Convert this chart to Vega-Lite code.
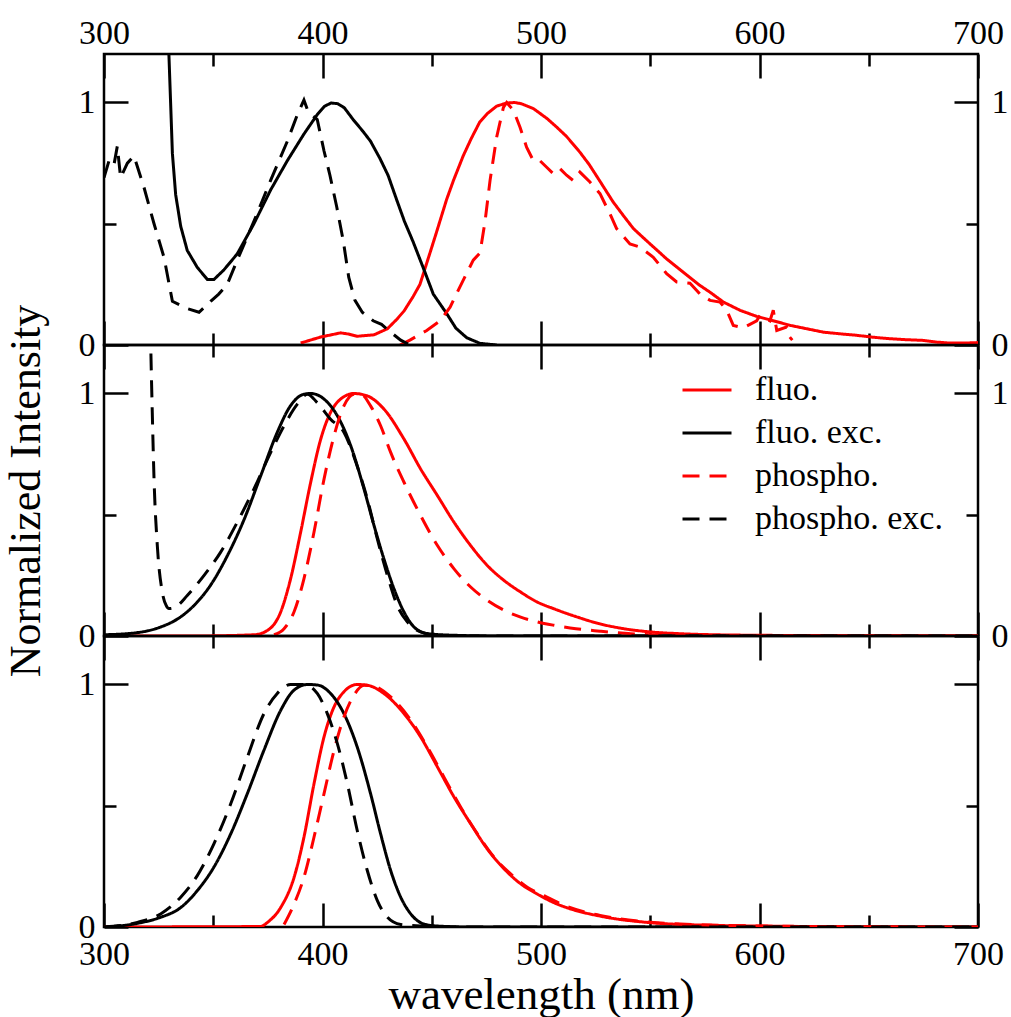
{
"$schema":"https://vega.github.io/schema/vega-lite/v6.json",
"padding":{"left":2,"top":14,"right":0,"bottom":5},
"bounds":"flush",
"spacing":0,
"config":{"font":"Liberation Serif","view":{"stroke":"#000","strokeWidth":2.5},
"axis":{"grid":false,"domain":false,"labelFont":"Liberation Serif","labelFontSize":34,"labelColor":"#000","tickColor":"#000","tickWidth":2.5,"titleFont":"Liberation Serif","titleFontSize":44,"titleFontWeight":"normal","titleColor":"#000","labelFlush":false,"labelOverlap":false,"format":"d"}},
"resolve":{"scale":{"color":"independent","strokeDash":"independent"},"legend":{"color":"independent","strokeDash":"independent"}},
"datasets":{
"top":[
{"s":"fluo.","x":390,"y":0.008},{"s":"fluo.","x":399.2,"y":0.033},{"s":"fluo.","x":408.3,"y":0.05},{"s":"fluo.","x":412,"y":0.045},{"s":"fluo.","x":415.9,"y":0.036},{"s":"fluo.","x":423.6,"y":0.042},{"s":"fluo.","x":429.7,"y":0.067},{"s":"fluo.","x":433.9,"y":0.105},{"s":"fluo.","x":437.3,"y":0.14},{"s":"fluo.","x":441.5,"y":0.2},{"s":"fluo.","x":444.6,"y":0.25},{"s":"fluo.","x":449.2,"y":0.38},{"s":"fluo.","x":452,"y":0.46},{"s":"fluo.","x":456.8,"y":0.6},{"s":"fluo.","x":460,"y":0.68},{"s":"fluo.","x":464.4,"y":0.78},{"s":"fluo.","x":468,"y":0.85},{"s":"fluo.","x":472,"y":0.92},{"s":"fluo.","x":475.5,"y":0.955},{"s":"fluo.","x":479.7,"y":0.985},{"s":"fluo.","x":484.3,"y":0.998},{"s":"fluo.","x":488,"y":1.0},{"s":"fluo.","x":491,"y":0.995},{"s":"fluo.","x":496.5,"y":0.975},{"s":"fluo.","x":502.6,"y":0.935},{"s":"fluo.","x":507,"y":0.9},{"s":"fluo.","x":511.7,"y":0.86},{"s":"fluo.","x":517.8,"y":0.795},{"s":"fluo.","x":522,"y":0.745},{"s":"fluo.","x":527,"y":0.675},{"s":"fluo.","x":533,"y":0.59},{"s":"fluo.","x":538,"y":0.53},{"s":"fluo.","x":542.3,"y":0.48},{"s":"fluo.","x":548.3,"y":0.43},{"s":"fluo.","x":552,"y":0.4},{"s":"fluo.","x":557.5,"y":0.355},{"s":"fluo.","x":565.1,"y":0.3},{"s":"fluo.","x":572.8,"y":0.245},{"s":"fluo.","x":577,"y":0.22},{"s":"fluo.","x":583.5,"y":0.177},{"s":"fluo.","x":591.1,"y":0.143},{"s":"fluo.","x":598.7,"y":0.118},{"s":"fluo.","x":606.3,"y":0.1},{"s":"fluo.","x":614,"y":0.081},{"s":"fluo.","x":621.6,"y":0.067},{"s":"fluo.","x":629.2,"y":0.053},{"s":"fluo.","x":637,"y":0.046},{"s":"fluo.","x":644.5,"y":0.04},{"s":"fluo.","x":652,"y":0.032},{"s":"fluo.","x":659.5,"y":0.026},{"s":"fluo.","x":667,"y":0.022},{"s":"fluo.","x":674.8,"y":0.019},{"s":"fluo.","x":681,"y":0.012},{"s":"fluo.","x":687,"y":0.008},{"s":"fluo.","x":694,"y":0.008},{"s":"fluo.","x":700,"y":0.01},
{"s":"fluo. exc.","x":328,"y":1.8},{"s":"fluo. exc.","x":329.7,"y":1.2},{"s":"fluo. exc.","x":331.3,"y":0.79},{"s":"fluo. exc.","x":332.8,"y":0.62},{"s":"fluo. exc.","x":335.1,"y":0.49},{"s":"fluo. exc.","x":338.1,"y":0.39},{"s":"fluo. exc.","x":342.7,"y":0.32},{"s":"fluo. exc.","x":347.3,"y":0.27},{"s":"fluo. exc.","x":350.3,"y":0.27},{"s":"fluo. exc.","x":354.9,"y":0.31},{"s":"fluo. exc.","x":361,"y":0.376},{"s":"fluo. exc.","x":368.6,"y":0.5},{"s":"fluo. exc.","x":376.3,"y":0.64},{"s":"fluo. exc.","x":383.9,"y":0.76},{"s":"fluo. exc.","x":391.5,"y":0.87},{"s":"fluo. exc.","x":397.6,"y":0.95},{"s":"fluo. exc.","x":401,"y":0.985},{"s":"fluo. exc.","x":404,"y":0.998},{"s":"fluo. exc.","x":407,"y":0.995},{"s":"fluo. exc.","x":410,"y":0.978},{"s":"fluo. exc.","x":414,"y":0.93},{"s":"fluo. exc.","x":418.7,"y":0.879},{"s":"fluo. exc.","x":422,"y":0.84},{"s":"fluo. exc.","x":426.3,"y":0.769},{"s":"fluo. exc.","x":430,"y":0.7},{"s":"fluo. exc.","x":433.9,"y":0.6},{"s":"fluo. exc.","x":437.5,"y":0.51},{"s":"fluo. exc.","x":441.5,"y":0.425},{"s":"fluo. exc.","x":446.9,"y":0.3},{"s":"fluo. exc.","x":450.7,"y":0.21},{"s":"fluo. exc.","x":456.8,"y":0.13},{"s":"fluo. exc.","x":461,"y":0.07},{"s":"fluo. exc.","x":466,"y":0.03},{"s":"fluo. exc.","x":472,"y":0.007},{"s":"fluo. exc.","x":479.7,"y":0.0},
{"s":"phospho.","x":435.5,"y":0.0},{"s":"phospho.","x":440,"y":0.02},{"s":"phospho.","x":447.7,"y":0.06},{"s":"phospho.","x":453.8,"y":0.1},{"s":"phospho.","x":458.4,"y":0.156},{"s":"phospho.","x":462.9,"y":0.24},{"s":"phospho.","x":469,"y":0.35},{"s":"phospho.","x":472.1,"y":0.38},{"s":"phospho.","x":474.4,"y":0.51},{"s":"phospho.","x":476.7,"y":0.68},{"s":"phospho.","x":479.7,"y":0.857},{"s":"phospho.","x":482.8,"y":0.98},{"s":"phospho.","x":484.3,"y":1.0},{"s":"phospho.","x":487.4,"y":0.967},{"s":"phospho.","x":490.4,"y":0.898},{"s":"phospho.","x":493.4,"y":0.816},{"s":"phospho.","x":496.5,"y":0.76},{"s":"phospho.","x":499.5,"y":0.76},{"s":"phospho.","x":502.6,"y":0.733},{"s":"phospho.","x":505.7,"y":0.706},{"s":"phospho.","x":508.7,"y":0.727},{"s":"phospho.","x":511.7,"y":0.7},{"s":"phospho.","x":514.8,"y":0.678},{"s":"phospho.","x":517.8,"y":0.713},{"s":"phospho.","x":522.4,"y":0.672},{"s":"phospho.","x":527,"y":0.624},{"s":"phospho.","x":531.6,"y":0.54},{"s":"phospho.","x":534.6,"y":0.48},{"s":"phospho.","x":540.7,"y":0.417},{"s":"phospho.","x":545.3,"y":0.404},{"s":"phospho.","x":551.4,"y":0.362},{"s":"phospho.","x":557.5,"y":0.294},{"s":"phospho.","x":562.1,"y":0.26},{"s":"phospho.","x":568.2,"y":0.255},{"s":"phospho.","x":572.8,"y":0.21},{"s":"phospho.","x":577.4,"y":0.184},{"s":"phospho.","x":581.9,"y":0.177},{"s":"phospho.","x":585,"y":0.143},{"s":"phospho.","x":588,"y":0.081},{"s":"phospho.","x":592.6,"y":0.071},{"s":"phospho.","x":598.7,"y":0.1},{"s":"phospho.","x":600.2,"y":0.122},{"s":"phospho.","x":604.8,"y":0.1},{"s":"phospho.","x":606.3,"y":0.143},{"s":"phospho.","x":607.9,"y":0.06},{"s":"phospho.","x":612.4,"y":0.074},{"s":"phospho.","x":613.2,"y":0.04},{"s":"phospho.","x":615,"y":0.02},
{"s":"phospho. exc.","x":300,"y":0.69},{"s":"phospho. exc.","x":302.3,"y":0.76},{"s":"phospho. exc.","x":304.5,"y":0.74},{"s":"phospho. exc.","x":306.1,"y":0.82},{"s":"phospho. exc.","x":307.6,"y":0.69},{"s":"phospho. exc.","x":310.7,"y":0.75},{"s":"phospho. exc.","x":313.7,"y":0.78},{"s":"phospho. exc.","x":318.3,"y":0.65},{"s":"phospho. exc.","x":322.9,"y":0.5},{"s":"phospho. exc.","x":327.5,"y":0.36},{"s":"phospho. exc.","x":331.3,"y":0.18},{"s":"phospho. exc.","x":338.1,"y":0.15},{"s":"phospho. exc.","x":343.5,"y":0.135},{"s":"phospho. exc.","x":348.8,"y":0.18},{"s":"phospho. exc.","x":352.5,"y":0.21},{"s":"phospho. exc.","x":356.4,"y":0.25},{"s":"phospho. exc.","x":361,"y":0.35},{"s":"phospho. exc.","x":368.6,"y":0.51},{"s":"phospho. exc.","x":376.3,"y":0.68},{"s":"phospho. exc.","x":383.9,"y":0.84},{"s":"phospho. exc.","x":388.5,"y":0.95},{"s":"phospho. exc.","x":391.5,"y":1.01},{"s":"phospho. exc.","x":393.5,"y":0.96},{"s":"phospho. exc.","x":397.6,"y":0.93},{"s":"phospho. exc.","x":400.7,"y":0.8},{"s":"phospho. exc.","x":403.4,"y":0.7},{"s":"phospho. exc.","x":406.5,"y":0.57},{"s":"phospho. exc.","x":409.5,"y":0.43},{"s":"phospho. exc.","x":412,"y":0.28},{"s":"phospho. exc.","x":414.8,"y":0.185},{"s":"phospho. exc.","x":418.2,"y":0.135},{"s":"phospho. exc.","x":423.2,"y":0.1},{"s":"phospho. exc.","x":427,"y":0.085},{"s":"phospho. exc.","x":430.9,"y":0.055},{"s":"phospho. exc.","x":435.8,"y":0.02},{"s":"phospho. exc.","x":440,"y":0.0}
],
"mid":[
{"s":"fluo.","x":300,"y":0},{"s":"fluo.","x":340,"y":0},{"s":"fluo.","x":368.6,"y":0.005},{"s":"fluo.","x":374.8,"y":0.023},{"s":"fluo.","x":380.9,"y":0.1},{"s":"fluo.","x":385.4,"y":0.236},{"s":"fluo.","x":390,"y":0.428},{"s":"fluo.","x":394.6,"y":0.634},{"s":"fluo.","x":399.2,"y":0.812},{"s":"fluo.","x":403.7,"y":0.922},{"s":"fluo.","x":408.3,"y":0.977},{"s":"fluo.","x":414.4,"y":1.0},{"s":"fluo.","x":420.5,"y":0.99},{"s":"fluo.","x":428.1,"y":0.936},{"s":"fluo.","x":437.3,"y":0.812},{"s":"fluo.","x":444.9,"y":0.689},{"s":"fluo.","x":452.6,"y":0.579},{"s":"fluo.","x":460.2,"y":0.469},{"s":"fluo.","x":467.8,"y":0.373},{"s":"fluo.","x":475.4,"y":0.291},{"s":"fluo.","x":483.1,"y":0.229},{"s":"fluo.","x":490.7,"y":0.181},{"s":"fluo.","x":498.3,"y":0.14},{"s":"fluo.","x":506,"y":0.112},{"s":"fluo.","x":516,"y":0.08},{"s":"fluo.","x":527,"y":0.05},{"s":"fluo.","x":538,"y":0.03},{"s":"fluo.","x":549.9,"y":0.017},{"s":"fluo.","x":565,"y":0.009},{"s":"fluo.","x":580,"y":0.005},{"s":"fluo.","x":600,"y":0.003},{"s":"fluo.","x":650,"y":0.001},{"s":"fluo.","x":700,"y":0},
{"s":"fluo. exc.","x":300,"y":0.005},{"s":"fluo. exc.","x":315.3,"y":0.014},{"s":"fluo. exc.","x":325.9,"y":0.037},{"s":"fluo. exc.","x":333.6,"y":0.07},{"s":"fluo. exc.","x":341.2,"y":0.126},{"s":"fluo. exc.","x":348.8,"y":0.21},{"s":"fluo. exc.","x":356.4,"y":0.33},{"s":"fluo. exc.","x":364.1,"y":0.48},{"s":"fluo. exc.","x":371.7,"y":0.66},{"s":"fluo. exc.","x":379.3,"y":0.84},{"s":"fluo. exc.","x":385.4,"y":0.95},{"s":"fluo. exc.","x":391.5,"y":0.997},{"s":"fluo. exc.","x":394.6,"y":1.0},{"s":"fluo. exc.","x":400.7,"y":0.977},{"s":"fluo. exc.","x":406.8,"y":0.908},{"s":"fluo. exc.","x":412.9,"y":0.785},{"s":"fluo. exc.","x":419,"y":0.606},{"s":"fluo. exc.","x":423.6,"y":0.455},{"s":"fluo. exc.","x":428.1,"y":0.318},{"s":"fluo. exc.","x":432.7,"y":0.195},{"s":"fluo. exc.","x":437.3,"y":0.099},{"s":"fluo. exc.","x":441.9,"y":0.037},{"s":"fluo. exc.","x":448,"y":0.01},{"s":"fluo. exc.","x":460.2,"y":0.003},{"s":"fluo. exc.","x":480,"y":0},{"s":"fluo. exc.","x":700,"y":0},
{"s":"phospho.","x":377.8,"y":0.005},{"s":"phospho.","x":382.4,"y":0.03},{"s":"phospho.","x":387,"y":0.1},{"s":"phospho.","x":391.5,"y":0.236},{"s":"phospho.","x":396.1,"y":0.428},{"s":"phospho.","x":400.7,"y":0.647},{"s":"phospho.","x":405.3,"y":0.826},{"s":"phospho.","x":409.8,"y":0.949},{"s":"phospho.","x":414.4,"y":0.997},{"s":"phospho.","x":417.5,"y":0.997},{"s":"phospho.","x":422,"y":0.949},{"s":"phospho.","x":426.6,"y":0.867},{"s":"phospho.","x":431.2,"y":0.757},{"s":"phospho.","x":437.3,"y":0.634},{"s":"phospho.","x":444.9,"y":0.497},{"s":"phospho.","x":452.6,"y":0.373},{"s":"phospho.","x":460.2,"y":0.277},{"s":"phospho.","x":467.8,"y":0.202},{"s":"phospho.","x":475.4,"y":0.147},{"s":"phospho.","x":483.1,"y":0.106},{"s":"phospho.","x":490.7,"y":0.078},{"s":"phospho.","x":498.3,"y":0.058},{"s":"phospho.","x":506,"y":0.044},{"s":"phospho.","x":516,"y":0.03},{"s":"phospho.","x":527,"y":0.02},{"s":"phospho.","x":540,"y":0.01},{"s":"phospho.","x":550,"y":0.005},{"s":"phospho.","x":575,"y":0.002},{"s":"phospho.","x":600,"y":0},{"s":"phospho.","x":700,"y":0},
{"s":"phospho. exc.","x":320.8,"y":1.5},{"s":"phospho. exc.","x":321.4,"y":1.196},{"s":"phospho. exc.","x":322.1,"y":0.92},{"s":"phospho. exc.","x":322.9,"y":0.647},{"s":"phospho. exc.","x":324.4,"y":0.373},{"s":"phospho. exc.","x":326.7,"y":0.18},{"s":"phospho. exc.","x":328.5,"y":0.125},{"s":"phospho. exc.","x":329.7,"y":0.113},{"s":"phospho. exc.","x":332.8,"y":0.12},{"s":"phospho. exc.","x":338.1,"y":0.167},{"s":"phospho. exc.","x":345.8,"y":0.25},{"s":"phospho. exc.","x":353.4,"y":0.346},{"s":"phospho. exc.","x":361,"y":0.469},{"s":"phospho. exc.","x":368.6,"y":0.606},{"s":"phospho. exc.","x":376.3,"y":0.757},{"s":"phospho. exc.","x":382.4,"y":0.867},{"s":"phospho. exc.","x":388.5,"y":0.956},{"s":"phospho. exc.","x":393.1,"y":0.997},{"s":"phospho. exc.","x":397.6,"y":0.962},{"s":"phospho. exc.","x":403.7,"y":0.894},{"s":"phospho. exc.","x":409.8,"y":0.84},{"s":"phospho. exc.","x":415.9,"y":0.7},{"s":"phospho. exc.","x":420.5,"y":0.565},{"s":"phospho. exc.","x":425.1,"y":0.4},{"s":"phospho. exc.","x":429.7,"y":0.25},{"s":"phospho. exc.","x":434.2,"y":0.126},{"s":"phospho. exc.","x":438.8,"y":0.058},{"s":"phospho. exc.","x":444.9,"y":0.017},{"s":"phospho. exc.","x":452.6,"y":0.003},{"s":"phospho. exc.","x":470,"y":0},{"s":"phospho. exc.","x":700,"y":0}
],
"bot":[
{"s":"fluo.","x":300,"y":0},{"s":"fluo.","x":371.7,"y":0.002},{"s":"fluo.","x":374.8,"y":0.019},{"s":"fluo.","x":380.9,"y":0.081},{"s":"fluo.","x":387,"y":0.205},{"s":"fluo.","x":391.5,"y":0.37},{"s":"fluo.","x":396.1,"y":0.59},{"s":"fluo.","x":400.7,"y":0.784},{"s":"fluo.","x":405.3,"y":0.908},{"s":"fluo.","x":409.8,"y":0.97},{"s":"fluo.","x":415.9,"y":1.0},{"s":"fluo.","x":420.5,"y":0.997},{"s":"fluo.","x":428.1,"y":0.963},{"s":"fluo.","x":437.3,"y":0.88},{"s":"fluo.","x":444.9,"y":0.784},{"s":"fluo.","x":452.6,"y":0.66},{"s":"fluo.","x":460.2,"y":0.536},{"s":"fluo.","x":467.8,"y":0.426},{"s":"fluo.","x":475.4,"y":0.322},{"s":"fluo.","x":483.1,"y":0.24},{"s":"fluo.","x":490.7,"y":0.178},{"s":"fluo.","x":498.3,"y":0.136},{"s":"fluo.","x":506,"y":0.1},{"s":"fluo.","x":511.7,"y":0.08},{"s":"fluo.","x":527,"y":0.045},{"s":"fluo.","x":549.9,"y":0.018},{"s":"fluo.","x":572.8,"y":0.008},{"s":"fluo.","x":600.2,"y":0.004},{"s":"fluo.","x":650,"y":0.001},{"s":"fluo.","x":700,"y":0},
{"s":"fluo. exc.","x":300,"y":0},{"s":"fluo. exc.","x":315.3,"y":0.015},{"s":"fluo. exc.","x":325.9,"y":0.04},{"s":"fluo. exc.","x":335.1,"y":0.08},{"s":"fluo. exc.","x":342.7,"y":0.15},{"s":"fluo. exc.","x":350.3,"y":0.247},{"s":"fluo. exc.","x":358,"y":0.384},{"s":"fluo. exc.","x":365.6,"y":0.55},{"s":"fluo. exc.","x":373.2,"y":0.729},{"s":"fluo. exc.","x":380.9,"y":0.894},{"s":"fluo. exc.","x":387,"y":0.977},{"s":"fluo. exc.","x":393.1,"y":1.0},{"s":"fluo. exc.","x":397.6,"y":0.998},{"s":"fluo. exc.","x":403.7,"y":0.963},{"s":"fluo. exc.","x":409.8,"y":0.88},{"s":"fluo. exc.","x":415.9,"y":0.742},{"s":"fluo. exc.","x":422,"y":0.55},{"s":"fluo. exc.","x":426.6,"y":0.384},{"s":"fluo. exc.","x":431.2,"y":0.233},{"s":"fluo. exc.","x":435.8,"y":0.123},{"s":"fluo. exc.","x":440.4,"y":0.054},{"s":"fluo. exc.","x":446.5,"y":0.012},{"s":"fluo. exc.","x":452.6,"y":0.004},{"s":"fluo. exc.","x":467.8,"y":0},{"s":"fluo. exc.","x":700,"y":0},
{"s":"phospho.","x":382.4,"y":0.01},{"s":"phospho.","x":387,"y":0.095},{"s":"phospho.","x":391.5,"y":0.205},{"s":"phospho.","x":396.1,"y":0.37},{"s":"phospho.","x":400.7,"y":0.55},{"s":"phospho.","x":405.3,"y":0.729},{"s":"phospho.","x":409.8,"y":0.866},{"s":"phospho.","x":414.4,"y":0.956},{"s":"phospho.","x":419,"y":0.997},{"s":"phospho.","x":423.6,"y":0.993},{"s":"phospho.","x":431.2,"y":0.949},{"s":"phospho.","x":440.4,"y":0.853},{"s":"phospho.","x":448,"y":0.742},{"s":"phospho.","x":455.6,"y":0.618},{"s":"phospho.","x":463.2,"y":0.495},{"s":"phospho.","x":470.9,"y":0.384},{"s":"phospho.","x":478.5,"y":0.288},{"s":"phospho.","x":486.1,"y":0.219},{"s":"phospho.","x":493.7,"y":0.164},{"s":"phospho.","x":501.4,"y":0.129},{"s":"phospho.","x":511.7,"y":0.085},{"s":"phospho.","x":527,"y":0.048},{"s":"phospho.","x":550,"y":0.02},{"s":"phospho.","x":573,"y":0.009},{"s":"phospho.","x":600,"y":0.004},{"s":"phospho.","x":650,"y":0.001},{"s":"phospho.","x":700,"y":0},
{"s":"phospho. exc.","x":300,"y":0},{"s":"phospho. exc.","x":315.3,"y":0.019},{"s":"phospho. exc.","x":325.9,"y":0.054},{"s":"phospho. exc.","x":335.1,"y":0.123},{"s":"phospho. exc.","x":342.7,"y":0.212},{"s":"phospho. exc.","x":350.3,"y":0.343},{"s":"phospho. exc.","x":358,"y":0.508},{"s":"phospho. exc.","x":365.6,"y":0.7},{"s":"phospho. exc.","x":373.2,"y":0.88},{"s":"phospho. exc.","x":379.3,"y":0.963},{"s":"phospho. exc.","x":385.4,"y":1.0},{"s":"phospho. exc.","x":391.5,"y":1.0},{"s":"phospho. exc.","x":397.6,"y":0.963},{"s":"phospho. exc.","x":402.2,"y":0.88},{"s":"phospho. exc.","x":406.8,"y":0.756},{"s":"phospho. exc.","x":411.4,"y":0.59},{"s":"phospho. exc.","x":415.9,"y":0.398},{"s":"phospho. exc.","x":420.5,"y":0.233},{"s":"phospho. exc.","x":425.1,"y":0.109},{"s":"phospho. exc.","x":429.7,"y":0.04},{"s":"phospho. exc.","x":435.8,"y":0.01},{"s":"phospho. exc.","x":444.9,"y":0.004},{"s":"phospho. exc.","x":460,"y":0},{"s":"phospho. exc.","x":700,"y":0}
]},
"vconcat":[
{"width":874,"height":291,"data":{"name":"top"},
"resolve":{"axis":{"x":"independent","y":"independent"}},
"layer":[
{"transform":[{"filter":{"field":"s","equal":"fluo."}}],"mark":{"type":"line","clip":true,"strokeWidth":3},
"encoding":{"x":{"field":"x","type":"quantitative","scale":{"domain":[300,700],"nice":false},"axis":{"orient":"bottom","values":[300,400,500,600,700],"tickSize":-24,"labels":false,"title":null}},
"y":{"field":"y","type":"quantitative","scale":{"domain":[0,1.2],"nice":false},"axis":{"orient":"left","values":[0,1],"tickSize":-24,"labelPadding":33,"title":null}},
"color":{"field":"s","type":"nominal","scale":{"domain":["fluo.","fluo. exc.","phospho.","phospho. exc."],"range":["#ff0000","#000000","#ff0000","#000000"]},"legend":null},
"strokeDash":{"field":"s","type":"nominal","scale":{"domain":["fluo.","fluo. exc.","phospho.","phospho. exc."],"range":[[1,0],[1,0],[17,10],[17,10]]},"legend":null}}},
{"transform":[{"filter":{"field":"s","equal":"fluo. exc."}}],"mark":{"type":"line","clip":true,"strokeWidth":3},
"encoding":{"x":{"field":"x","type":"quantitative","scale":{"domain":[300,700],"nice":false},"axis":{"orient":"bottom","values":[350,450,550,650],"tickSize":-12,"labels":false,"title":null}},
"y":{"field":"y","type":"quantitative","scale":{"domain":[0,1.2],"nice":false},"axis":{"orient":"left","values":[0.5],"tickSize":-12,"labels":false,"title":null}},
"color":{"field":"s","type":"nominal","scale":{"domain":["fluo.","fluo. exc.","phospho.","phospho. exc."],"range":["#ff0000","#000000","#ff0000","#000000"]},"legend":null},
"strokeDash":{"field":"s","type":"nominal","scale":{"domain":["fluo.","fluo. exc.","phospho.","phospho. exc."],"range":[[1,0],[1,0],[17,10],[17,10]]},"legend":null}}},
{"transform":[{"filter":{"field":"s","equal":"phospho."}}],"mark":{"type":"line","clip":true,"strokeWidth":3},
"encoding":{"x":{"field":"x","type":"quantitative","scale":{"domain":[300,700],"nice":false},"axis":{"orient":"top","values":[300,400,500,600,700],"tickSize":-24,"labelPadding":28,"title":null}},
"y":{"field":"y","type":"quantitative","scale":{"domain":[0,1.2],"nice":false},"axis":{"orient":"right","values":[0,1],"tickSize":-24,"labelPadding":37,"title":null}},
"color":{"field":"s","type":"nominal","scale":{"domain":["fluo.","fluo. exc.","phospho.","phospho. exc."],"range":["#ff0000","#000000","#ff0000","#000000"]},"legend":null},
"strokeDash":{"field":"s","type":"nominal","scale":{"domain":["fluo.","fluo. exc.","phospho.","phospho. exc."],"range":[[1,0],[1,0],[17,10],[17,10]]},"legend":null}}},
{"transform":[{"filter":{"field":"s","equal":"phospho. exc."}}],"mark":{"type":"line","clip":true,"strokeWidth":3},
"encoding":{"x":{"field":"x","type":"quantitative","scale":{"domain":[300,700],"nice":false},"axis":{"orient":"top","values":[350,450,550,650],"tickSize":-12,"labels":false,"title":null}},
"y":{"field":"y","type":"quantitative","scale":{"domain":[0,1.2],"nice":false},"axis":{"orient":"right","values":[0.5],"tickSize":-12,"labels":false,"title":null}},
"color":{"field":"s","type":"nominal","scale":{"domain":["fluo.","fluo. exc.","phospho.","phospho. exc."],"range":["#ff0000","#000000","#ff0000","#000000"]},"legend":null},
"strokeDash":{"field":"s","type":"nominal","scale":{"domain":["fluo.","fluo. exc.","phospho.","phospho. exc."],"range":[[1,0],[1,0],[17,10],[17,10]]},"legend":null}}}
]},
{"width":874,"height":291,"data":{"name":"mid"},
"resolve":{"axis":{"x":"independent","y":"independent"}},
"layer":[
{"transform":[{"filter":{"field":"s","equal":"fluo."}}],"mark":{"type":"line","clip":true,"strokeWidth":3,"interpolate":"monotone"},
"encoding":{"x":{"field":"x","type":"quantitative","scale":{"domain":[300,700],"nice":false},"axis":{"orient":"bottom","values":[300,400,500,600,700],"tickSize":-24,"labels":false,"title":null}},
"y":{"field":"y","type":"quantitative","scale":{"domain":[0,1.2],"nice":false},"axis":{"orient":"left","values":[0,1],"tickSize":-24,"labelPadding":33,"title":"Normalized Intensity","titlePadding":30}},
"color":{"field":"s","type":"nominal","scale":{"domain":["fluo.","fluo. exc.","phospho.","phospho. exc."],"range":["#ff0000","#000000","#ff0000","#000000"]},"legend":{"orient":"none","legendX":577,"legendY":19,"title":null,"symbolType":"stroke","symbolSize":2401,"symbolStrokeWidth":3,"labelFont":"Liberation Serif","labelFontSize":34,"labelColor":"#000","labelOffset":22,"labelLimit":500,"rowPadding":-10,"padding":0}},
"strokeDash":{"field":"s","type":"nominal","scale":{"domain":["fluo.","fluo. exc.","phospho.","phospho. exc."],"range":[[1,0],[1,0],[17,10],[17,10]]},"legend":{"orient":"none","legendX":577,"legendY":19,"title":null,"symbolType":"stroke","symbolSize":2401,"symbolStrokeWidth":3,"labelFont":"Liberation Serif","labelFontSize":34,"labelColor":"#000","labelOffset":22,"labelLimit":500,"rowPadding":-10,"padding":0}}}},
{"transform":[{"filter":{"field":"s","equal":"fluo. exc."}}],"mark":{"type":"line","clip":true,"strokeWidth":3,"interpolate":"monotone"},
"encoding":{"x":{"field":"x","type":"quantitative","scale":{"domain":[300,700],"nice":false},"axis":{"orient":"bottom","values":[350,450,550,650],"tickSize":-12,"labels":false,"title":null}},
"y":{"field":"y","type":"quantitative","scale":{"domain":[0,1.2],"nice":false},"axis":{"orient":"left","values":[0.5],"tickSize":-12,"labels":false,"title":null}},
"color":{"field":"s","type":"nominal"},"strokeDash":{"field":"s","type":"nominal"}}},
{"transform":[{"filter":{"field":"s","equal":"phospho."}}],"mark":{"type":"line","clip":true,"strokeWidth":3,"interpolate":"monotone"},
"encoding":{"x":{"field":"x","type":"quantitative","scale":{"domain":[300,700],"nice":false},"axis":{"orient":"top","values":[300,400,500,600,700],"tickSize":-24,"labels":false,"title":null}},
"y":{"field":"y","type":"quantitative","scale":{"domain":[0,1.2],"nice":false},"axis":{"orient":"right","values":[0,1],"tickSize":-24,"labelPadding":37,"title":null}},
"color":{"field":"s","type":"nominal"},"strokeDash":{"field":"s","type":"nominal"}}},
{"transform":[{"filter":{"field":"s","equal":"phospho. exc."}}],"mark":{"type":"line","clip":true,"strokeWidth":3,"interpolate":"monotone"},
"encoding":{"x":{"field":"x","type":"quantitative","scale":{"domain":[300,700],"nice":false},"axis":{"orient":"top","values":[350,450,550,650],"tickSize":-12,"labels":false,"title":null}},
"y":{"field":"y","type":"quantitative","scale":{"domain":[0,1.2],"nice":false},"axis":{"orient":"right","values":[0.5],"tickSize":-12,"labels":false,"title":null}},
"color":{"field":"s","type":"nominal"},"strokeDash":{"field":"s","type":"nominal"}}}
]},
{"width":874,"height":291,"data":{"name":"bot"},
"resolve":{"axis":{"x":"independent","y":"independent"}},
"layer":[
{"transform":[{"filter":{"field":"s","equal":"fluo."}}],"mark":{"type":"line","clip":true,"strokeWidth":3,"interpolate":"monotone"},
"encoding":{"x":{"field":"x","type":"quantitative","scale":{"domain":[300,700],"nice":false},"axis":{"orient":"bottom","values":[300,400,500,600,700],"tickSize":-24,"labelPadding":34,"title":"wavelength (nm)","titlePadding":1,"titleFontSize":45}},
"y":{"field":"y","type":"quantitative","scale":{"domain":[0,1.2],"nice":false},"axis":{"orient":"left","values":[0,1],"tickSize":-24,"labelPadding":33,"title":null}},
"color":{"field":"s","type":"nominal","scale":{"domain":["fluo.","fluo. exc.","phospho.","phospho. exc."],"range":["#ff0000","#000000","#ff0000","#000000"]},"legend":null},
"strokeDash":{"field":"s","type":"nominal","scale":{"domain":["fluo.","fluo. exc.","phospho.","phospho. exc."],"range":[[1,0],[1,0],[17,10],[17,10]]},"legend":null}}},
{"transform":[{"filter":{"field":"s","equal":"fluo. exc."}}],"mark":{"type":"line","clip":true,"strokeWidth":3,"interpolate":"monotone"},
"encoding":{"x":{"field":"x","type":"quantitative","scale":{"domain":[300,700],"nice":false},"axis":{"orient":"bottom","values":[350,450,550,650],"tickSize":-12,"labels":false,"title":null}},
"y":{"field":"y","type":"quantitative","scale":{"domain":[0,1.2],"nice":false},"axis":{"orient":"left","values":[0.5],"tickSize":-12,"labels":false,"title":null}},
"color":{"field":"s","type":"nominal","legend":null},"strokeDash":{"field":"s","type":"nominal","legend":null}}},
{"transform":[{"filter":{"field":"s","equal":"phospho."}}],"mark":{"type":"line","clip":true,"strokeWidth":3,"interpolate":"monotone"},
"encoding":{"x":{"field":"x","type":"quantitative","scale":{"domain":[300,700],"nice":false},"axis":{"orient":"top","values":[300,400,500,600,700],"tickSize":-24,"labels":false,"title":null}},
"y":{"field":"y","type":"quantitative","scale":{"domain":[0,1.2],"nice":false},"axis":{"orient":"right","values":[0,1],"tickSize":-24,"labels":false,"title":null}},
"color":{"field":"s","type":"nominal","legend":null},"strokeDash":{"field":"s","type":"nominal","legend":null}}},
{"transform":[{"filter":{"field":"s","equal":"phospho. exc."}}],"mark":{"type":"line","clip":true,"strokeWidth":3,"interpolate":"monotone"},
"encoding":{"x":{"field":"x","type":"quantitative","scale":{"domain":[300,700],"nice":false},"axis":{"orient":"top","values":[350,450,550,650],"tickSize":-12,"labels":false,"title":null}},
"y":{"field":"y","type":"quantitative","scale":{"domain":[0,1.2],"nice":false},"axis":{"orient":"right","values":[0.5],"tickSize":-12,"labels":false,"title":null}},
"color":{"field":"s","type":"nominal","legend":null},"strokeDash":{"field":"s","type":"nominal","legend":null}}}
]}
]
}
